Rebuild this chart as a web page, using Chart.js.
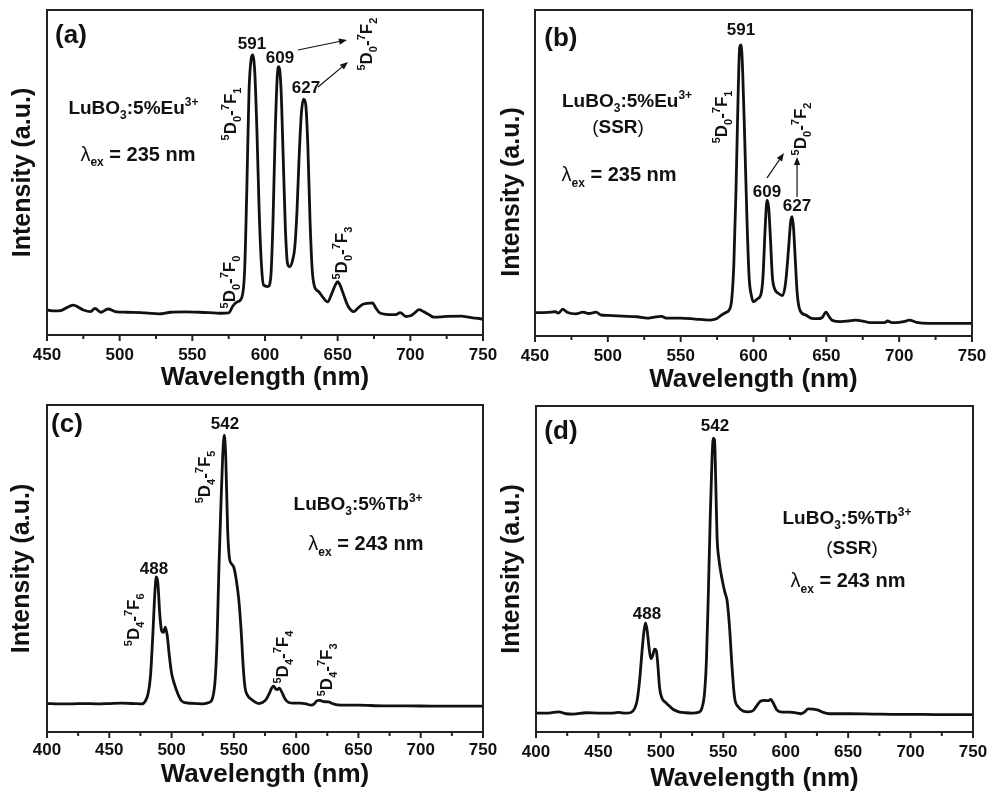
<!DOCTYPE html>
<html><head><meta charset="utf-8">
<script src="https://cdn.jsdelivr.net/npm/chart.js@4.4.1/dist/chart.umd.min.js"></script>
<style>
html,body{margin:0;padding:0;background:#fff;}
body{width:988px;height:794px;position:relative;overflow:hidden;}
canvas{position:absolute;}
</style></head><body>
<canvas id="cb" width="494" height="397" style="left:494px;top:0px"></canvas>
<canvas id="cd" width="494" height="397" style="left:494px;top:397px"></canvas>
<canvas id="ca" width="500" height="397" style="left:0px;top:0px"></canvas>
<canvas id="cc" width="500" height="397" style="left:0px;top:397px"></canvas>
<script>
const FONT = '"Liberation Sans", Arial, Helvetica, sans-serif';

// ---- data (wavelength in nm, intensity in arbitrary units) ----
const xRangeEu = [450, 750];
const xRangeTb = [400, 750];

const wavelengthA = [450,455,460,468,475,480,483,487,492,497,505,515,520,527,535,545,555,565,570,575,578,581,584,586,587.5,589,590.5,591.5,593,594.5,596,597.5,599,602,604,605.5,607,608.5,609.5,611,612.5,614,615.5,617,619,620.5,622,623.5,625,626.5,628,629.5,631,632.5,634,637,640,643,646,648.5,650,651.5,654,657,661,664,667,670,674,676,679,685,690,693,697,700,703,706,709,713,716,725,735,741,745,750];
const intensityA = [7.7,7.4,7.6,9.2,7.7,7.2,8.2,7.0,8.0,7.2,7.0,6.9,6.7,6.5,7.0,7.1,7.0,6.8,6.7,6.8,9.0,10.2,11.5,20,45,75,85,86.2,80.5,62,38,22,15.4,14.9,17.9,35,62,80,82.6,76,55,33,22,21,23,27,38,55,68,72.6,71,58,35,20,15,13.3,11.5,10.2,12.8,15.5,16.4,15.5,12.5,9.0,7.2,8.3,9.4,9.7,9.9,8.5,6.8,6.3,6.3,6.9,5.7,5.9,6.8,7.8,7.2,6.2,5.5,5.7,5.8,5.4,5.2,4.9];

const wavelengthB = [450,456,461,464,466,469,472,478,483,487,492,495,500,510,520,527,532,537,540,550,560,570,575,578,581,583,585,586.5,588,589.5,590.5,591.5,592.5,594,595.5,597,598.5,600,603,605,606.5,608,609.3,610.5,611.5,613,614.5,617,620,622,624,625.5,626.5,627.5,628.5,630,632,636,640,644,647,649,650,651.5,654,660,665,670,675,680,690,692,695,700,704,707,712,720,735,750];
const intensityB = [7.2,7.2,7.3,7.5,7.0,8.2,7.3,6.8,7.3,6.9,7.3,6.5,6.3,6.1,5.9,5.5,5.8,6.0,5.5,5.5,5.2,4.9,5.4,6.4,7.2,7.8,11,22,45,75,88.5,89.3,82,60,36,18,12.5,10.5,11.5,12.6,18,33,41.7,39,31,18,14.5,13.1,12.4,16.2,26.4,35,36.6,33,25,13.1,7.8,6.4,5.4,5.3,5.6,7.0,7.3,6.2,4.8,4.4,4.6,4.9,4.6,4.1,4.1,4.6,4.1,4.2,4.5,4.9,4.2,3.9,3.9,3.9];

const wavelengthC = [400,410,420,430,440,450,460,470,476,479,481,483,485,486.5,487.7,489,490.5,492,493.5,495,496.5,498,500,502,505,508,512,520,525,530,533,535,536.5,538,539.5,541,542.3,543.5,545,546.5,548,550,552,554,556,557.5,559,561,564,567,570,573,576,578.5,580.5,582,583.5,585,586.5,588.5,591,594,598,603,608,612,614.5,616.5,619,622,626,629,633,640,650,670,690,710,730,750];
const intensityC = [8.7,8.6,8.6,8.7,8.6,8.7,8.8,8.7,8.6,9.5,11.5,16.8,30.1,42,47.4,45.5,36.2,31,30.5,32.1,29.5,24,18,15.0,11.7,9.5,8.9,8.7,8.6,9.0,10.5,16,28,50,68,84,90.8,84,62,53,51.5,50.3,46.4,40.3,30.1,20,13.5,11.2,10.0,9.2,8.7,9.0,10.0,11.8,13.5,14.0,13.2,13.0,13.4,12.2,10.2,9.0,8.8,8.8,8.6,8.2,8.6,9.5,9.7,9.3,9.2,8.7,8.3,8.2,8.2,8.0,8.0,7.9,7.9,7.9];

const wavelengthD = [400,410,418,424,430,440,450,460,466,472,476,479,481,483,485,486.5,487.7,489,490.5,492,493.5,495,496.3,497.5,499,501,504,507,510,515,520,525,530,533,535,536.5,538,539.5,541,542,543,544,545,546.5,548,550,551.5,553,555,557,559,562,566,570,574,577,580,583,586,588,590,593,597,603,608,612,615,618,622,626,630,635,650,670,690,710,730,750];
const intensityD = [5.8,5.8,6.2,5.6,5.5,5.9,5.8,5.8,6.0,5.8,6.0,7.2,9.7,15.9,25.1,31,33.5,31.2,26,22.5,23.5,25.4,25,21,13.5,10.3,9.0,7.9,6.9,6.1,5.9,5.8,6.0,7.5,12,22,42,65,84,90.1,89.6,76,60,53,49,45,42.5,40.4,32.2,20,10.7,7.7,6.4,6.2,6.6,8.2,9.5,9.7,9.6,10.0,8.9,6.7,6.1,6.1,5.9,5.6,6.1,7.1,7.0,6.7,6.0,5.6,5.6,5.5,5.4,5.4,5.3,5.3];

// ---- annotation texts (positions in data units) ----
const notesA = [
  {t:'(a)', x:466.5, y:92.6, size:26},
  {t:'591', x:591.0, y:89.8, size:17},
  {t:'609', x:610.3, y:85.5, size:17},
  {t:'627', x:628.2, y:76.3, size:17},
  {t:'{^5}D{_0}-{^7}F{_1}', x:575.9, y:68, size:17, rot:true},
  {t:'{^5}D{_0}-{^7}F{_0}', x:575.2, y:16.3, size:17, rot:true},
  {t:'{^5}D{_0}-{^7}F{_2}', x:669.5, y:89.5, size:17, rot:true},
  {t:'{^5}D{_0}-{^7}F{_3}', x:652.3, y:25.2, size:17, rot:true},
  {t:'LuBO{_3}:5%Eu{^3+}', x:509.5, y:70.2, size:19},
  {t:'{~λ}{_ex} = 235 nm', x:512.6, y:55.8, size:20}
];
const arrowsA = [
  {x1:622.7, y1:87.7, x2:656.4, y2:90.8},
  {x1:636.5, y1:76.3, x2:657.1, y2:84}
];
const notesB = [
  {t:'(b)', x:467.8, y:91.7, size:26},
  {t:'591', x:591.4, y:94.2, size:17},
  {t:'{^5}D{_0}-{^7}F{_1}', x:577.7, y:67.2, size:17, rot:true},
  {t:'{^5}D{_0}-{^7}F{_2}', x:631.9, y:63.5, size:17, rot:true},
  {t:'609', x:609.3, y:44.5, size:17},
  {t:'627', x:629.9, y:40.2, size:17},
  {t:'LuBO{_3}:5%Eu{^3+}', x:513.2, y:72.4, size:19},
  {t:'{~(}SSR{~)}', x:507, y:64.4, size:19},
  {t:'{~λ}{_ex} = 235 nm', x:507.7, y:49.7, size:20}
];
const arrowsB = [
  {x1:609.3, y1:48.5, x2:620.9, y2:56.1},
  {x1:629.9, y1:42.6, x2:629.9, y2:54.9}
];
const notesC = [
  {t:'(c)', x:416, y:94.5, size:26},
  {t:'542', x:542.9, y:94.5, size:17},
  {t:'{^5}D{_4}-{^7}F{_5}', x:526, y:78, size:17, rot:true},
  {t:'488', x:485.9, y:50.2, size:17},
  {t:'{^5}D{_4}-{^7}F{_6}', x:469, y:34.3, size:17, rot:true},
  {t:'{^5}D{_4}-{^7}F{_4}', x:588.7, y:22.9, size:17, rot:true},
  {t:'{^5}D{_4}-{^7}F{_3}', x:624, y:19, size:17, rot:true},
  {t:'LuBO{_3}:5%Tb{^3+}', x:649.7, y:70, size:19},
  {t:'{~λ}{_ex} = 243 nm', x:656, y:57.8, size:20}
];
const notesD = [
  {t:'(d)', x:420, y:92.6, size:26},
  {t:'542', x:543.4, y:94.2, size:17},
  {t:'488', x:488.9, y:36.5, size:17},
  {t:'LuBO{_3}:5%Tb{^3+}', x:649.1, y:66, size:19},
  {t:'{~(}SSR{~)}', x:653.1, y:56.7, size:19},
  {t:'{~λ}{_ex} = 243 nm', x:649.9, y:46.6, size:20}
];

// ---- rich text helpers ----
function parseRich(m){
  const re=/\{([\^_~])([^}]*)\}|([^{]+)/g; let r; const out=[];
  while((r=re.exec(m))){ if(r[3]!==undefined) out.push({t:r[3],k:''}); else out.push({t:r[2],k:r[1]}); }
  return out;
}
function segFont(k,size){
  if(k==='^'||k==='_') return 'bold '+Math.round(size*0.62)+'px '+FONT;
  if(k==='~') return size+'px '+FONT;
  return 'bold '+size+'px '+FONT;
}
function drawRich(ctx, m, cx, cy, size, rot){
  const segs=parseRich(m);
  ctx.save(); ctx.translate(cx,cy); if(rot) ctx.rotate(-Math.PI/2);
  let w=0; segs.forEach(s=>{ctx.font=segFont(s.k,size); s.w=ctx.measureText(s.t).width; w+=s.w;});
  let x=-w/2; const base=0.36*size;
  ctx.textBaseline='alphabetic'; ctx.textAlign='left'; ctx.fillStyle='#111';
  segs.forEach(s=>{
    ctx.font=segFont(s.k,size);
    const dy = s.k==='^' ? -0.42*size : (s.k==='_' ? 0.28*size : 0);
    ctx.fillText(s.t,x,base+dy); x+=s.w;
  });
  ctx.restore();
}

const deco = {
  id:'deco',
  afterDatasetsDraw(chart){
    const p = chart.options.plugins.deco;
    const {ctx, chartArea:a, scales:{x,y}} = chart;
    ctx.save();
    ctx.strokeStyle='#222'; ctx.lineWidth=2;
    ctx.strokeRect(a.left, a.top, a.right-a.left, a.bottom-a.top);
    x.ticks.forEach(t=>{
      const px=x.getPixelForValue(t.value);
      const major = t.value % 50 === 0;
      ctx.beginPath(); ctx.moveTo(px, a.bottom); ctx.lineTo(px, a.bottom + (major?6:4)); ctx.stroke();
    });
    // y-axis title
    ctx.save();
    ctx.translate(p.yTitleX, (a.top+a.bottom)/2 + p.yTitleShift);
    ctx.rotate(-Math.PI/2);
    ctx.font='bold 25px '+FONT; ctx.fillStyle='#111'; ctx.textAlign='center'; ctx.textBaseline='middle';
    ctx.fillText('Intensity (a.u.)',0,0);
    ctx.restore();
    // notes
    p.notes.forEach(n=> drawRich(ctx, n.t, x.getPixelForValue(n.x), y.getPixelForValue(n.y), n.size, !!n.rot));
    // arrows
    ctx.strokeStyle='#111'; ctx.fillStyle='#111'; ctx.lineWidth=1.2;
    p.arrows.forEach(ar=>{
      const x1=x.getPixelForValue(ar.x1), y1=y.getPixelForValue(ar.y1);
      const x2=x.getPixelForValue(ar.x2), y2=y.getPixelForValue(ar.y2);
      const ang=Math.atan2(y2-y1,x2-x1), L=8, W=3.2;
      const bx=x2-L*Math.cos(ang), by=y2-L*Math.sin(ang);
      ctx.beginPath(); ctx.moveTo(x1,y1); ctx.lineTo(bx,by); ctx.stroke();
      ctx.beginPath(); ctx.moveTo(x2,y2);
      ctx.lineTo(bx+W*Math.sin(ang), by-W*Math.cos(ang));
      ctx.lineTo(bx-W*Math.sin(ang), by+W*Math.cos(ang));
      ctx.closePath(); ctx.fill();
    });
    ctx.restore();
  }
};

const panels = [
  {id:'ca', xs:wavelengthA, ys:intensityA, range:xRangeEu, padTop:10, padRight:17, yW:47, xH:62, tickPad:10, xTitlePad:4, yTitleX:23, yTitleShift:0, notes:notesA, arrows:arrowsA},
  {id:'cb', xs:wavelengthB, ys:intensityB, range:xRangeEu, padTop:10, padRight:16, yW:41, xH:61, tickPad:10, xTitlePad:1.5, yTitleX:18.5, yTitleShift:19, notes:notesB, arrows:arrowsB},
  {id:'cc', xs:wavelengthC, ys:intensityC, range:xRangeTb, padTop:8, padRight:17, yW:47, xH:62, tickPad:8, xTitlePad:3.5, yTitleX:22.5, yTitleShift:0, notes:notesC, arrows:[]},
  {id:'cd', xs:wavelengthD, ys:intensityD, range:xRangeTb, padTop:9, padRight:15, yW:42, xH:62, tickPad:10, xTitlePad:0, yTitleX:18, yTitleShift:0, notes:notesD, arrows:[]}
];

panels.forEach(p=>{
  const pts = p.xs.map((v,i)=>({x:v, y:p.ys[i]}));
  new Chart(document.getElementById(p.id), {
    type:'line',
    data:{datasets:[{data:pts, borderColor:'#111', borderWidth:2.8, pointRadius:0, cubicInterpolationMode:'monotone', fill:false}]},
    options:{
      responsive:false, animation:false, devicePixelRatio:1,
      layout:{padding:{left:0, top:p.padTop, right:p.padRight, bottom:0}},
      plugins:{legend:{display:false}, tooltip:{enabled:false},
        deco:{notes:p.notes, arrows:p.arrows, yTitleX:p.yTitleX, yTitleShift:p.yTitleShift}},
      scales:{
        x:{type:'linear', min:p.range[0], max:p.range[1],
          grid:{display:false, drawTicks:false}, border:{display:false},
          ticks:{stepSize:25, autoSkip:false, maxRotation:0, padding:p.tickPad, color:'#111',
            font:{family:FONT, size:17, weight:'bold'},
            callback:v=> (v%50===0 ? String(v) : '')},
          title:{display:true, text:'Wavelength (nm)', color:'#111',
            font:{family:FONT, size:26, weight:'bold'}, padding:{top:0, bottom:p.xTitlePad}},
          afterFit:s=>{s.height=p.xH; s.paddingLeft=0; s.paddingRight=0;}
        },
        y:{min:0, max:100, grid:{display:false, drawTicks:false}, border:{display:false},
          ticks:{display:false}, title:{display:false},
          afterFit:s=>{s.width=p.yW; s.paddingTop=0; s.paddingBottom=0;}
        }
      }
    },
    plugins:[deco]
  });
});
</script>
</body></html>
